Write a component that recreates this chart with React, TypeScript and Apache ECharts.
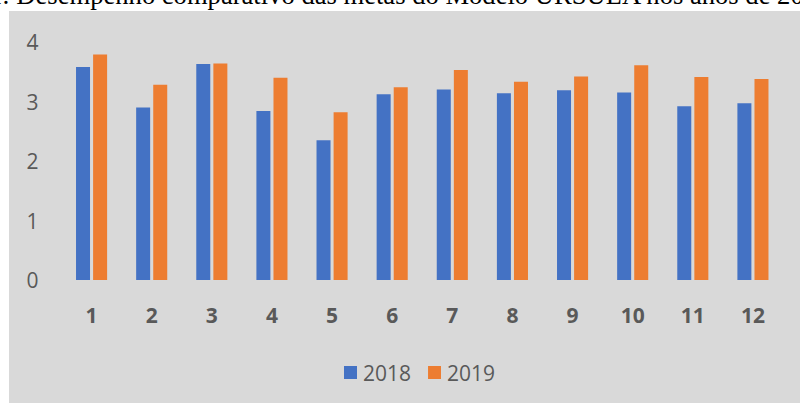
import React, { useEffect, useRef } from "react";
import * as echarts from "echarts";

const categories = ["1", "2", "3", "4", "5", "6", "7", "8", "9", "10", "11", "12"];
const values2018 = [3.58, 2.9, 3.63, 2.84, 2.35, 3.12, 3.2, 3.14, 3.19, 3.15, 2.92, 2.97];
const values2019 = [3.79, 3.28, 3.64, 3.4, 2.82, 3.24, 3.53, 3.33, 3.42, 3.61, 3.41, 3.38];
const seriesNames = ["2018", "2019"];
const titleText = "1: Desempenho comparativo das metas do Modelo URSULA nos anos de 2018 e 2019";

export default function App() {
  const ref = useRef<HTMLDivElement>(null);
  useEffect(() => {
    if (!ref.current) return;
    const chart = echarts.init(ref.current, null, { renderer: "svg" });
    const font = "'Open Sans', sans-serif";
    chart.setOption({
      animation: false,
      backgroundColor: "#ffffff",
      graphic: [
        {
          type: "rect",
          shape: { x: 9, y: 11, width: 791, height: 392 },
          style: { fill: "#d9d9d9" },
          silent: true,
          z: -10,
        },
        {
          type: "text",
          x: -11,
          y: 8,
          style: {
            text: titleText,
            font: "26.6px 'Liberation Serif', 'Times New Roman', serif",
            fill: "#000000",
            verticalAlign: "bottom",
          },
        },
      ],
      grid: { left: 61.5, right: 17, top: 42, bottom: 123, containLabel: false },
      legend: {
        data: seriesNames,
        left: 339,
        top: 357,
        itemWidth: 13,
        itemHeight: 13,
        itemGap: 17,
        icon: "rect",
        textStyle: { fontFamily: font, fontSize: 21, color: "#595959", padding: [0, 0, 0, 1] },
      },
      xAxis: {
        type: "category",
        data: categories,
        axisLine: { show: false },
        axisTick: { show: false },
        axisLabel: { fontFamily: font, fontSize: 21, fontWeight: "bold", color: "#595959", margin: 24 },
      },
      yAxis: {
        type: "value",
        min: 0,
        max: 4,
        interval: 1,
        splitLine: { show: false },
        axisLine: { show: false },
        axisTick: { show: false },
        axisLabel: { fontFamily: font, fontSize: 21, color: "#595959", margin: 23 },
      },
      series: [
        {
          name: seriesNames[0],
          type: "bar",
          data: values2018,
          barWidth: 14,
          barGap: "22%",
          itemStyle: { color: "#4472C4" },
        },
        {
          name: seriesNames[1],
          type: "bar",
          data: values2019,
          barWidth: 14,
          itemStyle: { color: "#ED7D31" },
        },
      ],
    });
    return () => chart.dispose();
  }, []);
  return (
    <div style={{ position: "fixed", left: 0, top: 0, width: 800, height: 403 }}>
      <div ref={ref} style={{ width: 800, height: 403 }} />
    </div>
  );
}
